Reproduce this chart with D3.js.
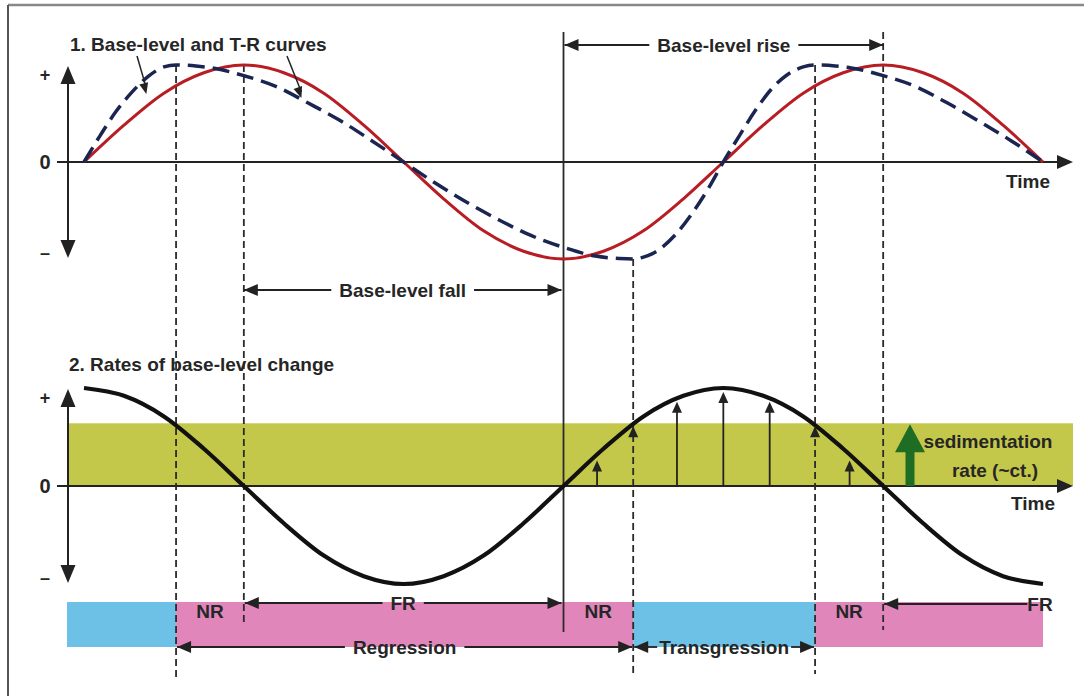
<!DOCTYPE html>
<html><head><meta charset="utf-8">
<script src="https://cdn.jsdelivr.net/npm/d3@7"></script>
<style>
html,body{margin:0;padding:0;background:#fff;}
svg{display:block;}
text{font-family:"Liberation Sans",Arial,sans-serif;fill:#262626;}
</style>
</head><body>
<svg id="c" width="1084" height="696"></svg>
<script>
// ---------- DATA (time in quarter-cycles) ----------
const timeSteps    = [0,0.25,0.5,0.75,1,1.25,1.5,1.75,2,2.25,2.5,2.75,3,3.25,3.5,3.75,4,4.25,4.5,4.75,5,5.25,5.5,5.75,6];
const baseLevel    = [0,0.38,0.71,0.92,1,0.92,0.71,0.38,0,-0.38,-0.71,-0.92,-1,-0.92,-0.71,-0.38,0,0.38,0.71,0.92,1,0.92,0.71,0.38,0];
const rateOfChange = [1,0.92,0.71,0.38,0,-0.38,-0.71,-0.92,-1,-0.92,-0.71,-0.38,0,0.38,0.71,0.92,1,0.92,0.71,0.38,0,-0.38,-0.71,-0.92,-1];
const trTime  = [0,0.1,0.2,0.3,0.4,0.5,0.576,0.7,0.8,1.0,1.2,1.4,1.6,1.8,2.0,2.2,2.4,2.6,2.8,3.0,3.2,3.35,3.436,3.5,3.55,3.6,3.7,3.8,3.9,4.0,4.1,4.2,4.3,4.4,4.5,4.574,4.7,4.8,5.0,5.2,5.4,5.6,5.8,6.0];
const trCurve = [0,0.27,0.52,0.72,0.88,0.98,1,0.99,0.97,0.89,0.78,0.61,0.43,0.22,0,-0.22,-0.42,-0.6,-0.76,-0.88,-0.97,-0.995,-1,-0.98,-0.95,-0.9,-0.75,-0.54,-0.29,0,0.27,0.53,0.75,0.9,0.98,1,0.99,0.97,0.89,0.78,0.61,0.42,0.22,0];
const sedimentationRate = 0.64;
const sedArrowTimes  = [3.21,3.71,4.0,4.29,4.79];
const sedArrowValues = [0.26,0.86,0.96,0.86,0.26];
const keyTimes = {trPeak1:0.576, blPeak1:1, blTrough:3, trTrough:3.436, trPeak2:4.574, blPeak2:5};
const phaseFrom = [null, 0.576, 3.436, 4.574];
const phaseTo   = [0.576, 3.436, 4.574, 6];
const phaseKind = ["T","R","T","R"];
const tickLabels = ["+","0","\u2013"];
const tickValues = [1,0,-1];

// ---------- SETUP ----------
const svg = d3.select("#c");
const x = d3.scaleLinear().domain([0,6]).range([84,1043]);
const yTop = d3.scaleLinear().domain([-1,1]).range([259,65]);
const yBot = d3.scaleLinear().domain([-1,1]).range([584,388]);
const axisX = 68, axisEnd = 1073;
const INK = "#222";
const FS = 19, FW = "bold";

function head(g, tx, ty, dir, len, hw, fill){
  let p;
  if(dir==="r") p=[[tx,ty],[tx-len,ty-hw],[tx-len,ty+hw]];
  if(dir==="l") p=[[tx,ty],[tx+len,ty-hw],[tx+len,ty+hw]];
  if(dir==="u") p=[[tx,ty],[tx-hw,ty+len],[tx+hw,ty+len]];
  if(dir==="d") p=[[tx,ty],[tx-hw,ty-len],[tx+hw,ty-len]];
  g.append("polygon").attr("points",p.map(d=>d.join(",")).join(" ")).attr("fill",fill||INK);
}
function label(g, tx, ty, s, anchor, size, weight){
  return g.append("text").attr("x",tx).attr("y",ty).attr("text-anchor",anchor||"middle")
    .attr("dominant-baseline","central").attr("font-size",size||FS).attr("font-weight",weight||FW).text(s);
}
function dimArrow(g, x1, x2, y, s, opts){
  opts = opts||{};
  const cx = opts.cx!==undefined ? opts.cx : (x1+x2)/2;
  const t = label(g, cx, y, s, "middle");
  const w = t.node().getComputedTextLength();
  const pad = opts.pad!==undefined ? opts.pad : 8;
  const lx = cx - w/2 - pad, rx = cx + w/2 + pad;
  if(lx > x1) g.append("line").attr("x1",x1).attr("x2",lx).attr("y1",y).attr("y2",y).attr("stroke",INK).attr("stroke-width",1.8);
  if(x2 > rx) g.append("line").attr("x1",rx).attr("x2",x2).attr("y1",y).attr("y2",y).attr("stroke",INK).attr("stroke-width",1.8);
  if(opts.left!==false) head(g, x1, y, "l", 14, 6);
  if(opts.right!==false) head(g, x2, y, "r", 14, 6);
}

// frame
svg.append("line").attr("x1",8).attr("x2",1084).attr("y1",5).attr("y2",5).attr("stroke","#888").attr("stroke-width",2.5);
svg.append("line").attr("x1",8).attr("x2",8).attr("y1",5).attr("y2",696).attr("stroke","#555").attr("stroke-width",2);

// green sedimentation band
svg.append("rect").attr("x",axisX).attr("width",axisEnd-axisX)
  .attr("y",yBot(sedimentationRate)).attr("height",yBot(0)-yBot(sedimentationRate)).attr("fill","#c4c84a");

// phase bars
const barG = svg.append("g");
phaseKind.forEach((k,i)=>{
  const x0 = phaseFrom[i]===null ? axisX-1 : x(phaseFrom[i]);
  const x1 = x(phaseTo[i]);
  barG.append("rect").attr("x",x0).attr("width",x1-x0).attr("y",602).attr("height",45)
    .attr("fill", k==="T" ? "#6dc0e6" : "#e186ba");
});

// axes
[yTop,yBot].forEach(ys=>{
  const g = svg.append("g");
  g.append("line").attr("x1",57).attr("x2",axisEnd-14).attr("y1",ys(0)).attr("y2",ys(0)).attr("stroke",INK).attr("stroke-width",2);
  head(g, axisEnd, ys(0), "r", 16, 7);
  g.append("line").attr("x1",axisX).attr("x2",axisX).attr("y1",ys(1)+14).attr("y2",ys(-1)-14).attr("stroke",INK).attr("stroke-width",2);
  head(g, axisX, ys(1)+1, "u", 18, 7.5);
  head(g, axisX, ys(-1)-1, "d", 18, 7.5);
  tickLabels.forEach((s,i)=>{
    const v = tickValues[i];
    const yy = v===0 ? ys(0) : ys(v) + (v>0 ? 10 : -6);
    label(g, 45, yy, s, "middle", v===0?20:18, "bold");
  });
});
label(svg, 1028, 181, "Time");
label(svg, 1033, 503, "Time");

// vertical boundary lines
const vlines = [
  {t:keyTimes.trPeak1, y1:yTop(1), y2:680, dash:"7,4"},
  {t:keyTimes.blPeak1, y1:yTop(1), y2:625, dash:"7,4"},
  {t:keyTimes.blTrough, y1:32, y2:632, dash:null},
  {t:keyTimes.trTrough, y1:yTop(-1), y2:674, dash:"7,4"},
  {t:keyTimes.trPeak2, y1:yTop(1), y2:674, dash:"7,4"},
  {t:keyTimes.blPeak2, y1:32, y2:630, dash:"7,4"}
];
vlines.forEach(v=>{
  svg.append("line").attr("x1",x(v.t)).attr("x2",x(v.t)).attr("y1",v.y1).attr("y2",v.y2)
    .attr("stroke","#2a2a2a").attr("stroke-width",1.8).attr("stroke-dasharray",v.dash);
});

// curves
const lineTop = d3.line().x(d=>x(d[0])).y(d=>yTop(d[1])).curve(d3.curveMonotoneX);
const lineBot = d3.line().x(d=>x(d[0])).y(d=>yBot(d[1])).curve(d3.curveMonotoneX);
svg.append("path").attr("d", lineTop(timeSteps.map((t,i)=>[t,baseLevel[i]])))
  .attr("fill","none").attr("stroke","#b81d24").attr("stroke-width",3);
svg.append("path").attr("d", lineTop(trTime.map((t,i)=>[t,trCurve[i]])))
  .attr("fill","none").attr("stroke","#1b2552").attr("stroke-width",3.5).attr("stroke-dasharray","17,8");
svg.append("path").attr("d", lineBot(timeSteps.map((t,i)=>[t,rateOfChange[i]])))
  .attr("fill","none").attr("stroke","#111").attr("stroke-width",4.2);

// sedimentation arrows under the rate curve
sedArrowTimes.forEach((t,i)=>{
  const xx = x(t), yt = yBot(sedArrowValues[i]);
  svg.append("line").attr("x1",xx).attr("x2",xx).attr("y1",yBot(0)).attr("y2",yt+8).attr("stroke",INK).attr("stroke-width",1.8);
  head(svg, xx, yt, "u", 11, 5);
});
[keyTimes.trTrough, keyTimes.trPeak2].forEach(t=>{
  head(svg, x(t), yBot(sedimentationRate)+3, "u", 11, 5);
});

// green sedimentation arrow
const gx = 910;
svg.append("rect").attr("x",gx-4.5).attr("width",9).attr("y",yBot(sedimentationRate)+26).attr("height",yBot(0)-yBot(sedimentationRate)-26).attr("fill","#1f6d24");
head(svg, gx, yBot(sedimentationRate)+1, "u", 28, 15, "#1f6d24");
label(svg, 988, 441, "sedimentation");
label(svg, 995, 470, "rate (~ct.)");

// titles
svg.append("text").attr("x",70).attr("y",51).attr("font-size",FS).attr("font-weight",FW).text("1. Base-level and T-R curves");
svg.append("text").attr("x",69).attr("y",371).attr("font-size",FS).attr("font-weight",FW).text("2. Rates of base-level change");

// title pointers
const pointers = [{fx:137, fy:56, t:0.39, v:0.70},{fx:287, fy:56, t:1.36, v:0.66}];
pointers.forEach(p=>{
  const tx = x(p.t), ty = yTop(p.v);
  svg.append("line").attr("x1",p.fx).attr("y1",p.fy).attr("x2",tx).attr("y2",ty-6).attr("stroke",INK).attr("stroke-width",1.5);
  const ang = Math.atan2(ty-p.fy, tx-p.fx);
  const len=11, hw=4.5;
  const bx = tx-len*Math.cos(ang), by = ty-len*Math.sin(ang);
  svg.append("polygon").attr("points",[[tx,ty],[bx-hw*Math.sin(ang),by+hw*Math.cos(ang)],[bx+hw*Math.sin(ang),by-hw*Math.cos(ang)]].map(d=>d.join(",")).join(" ")).attr("fill",INK);
});

// dimension arrows
dimArrow(svg, x(keyTimes.blPeak1), x(keyTimes.blTrough)-2, 290, "Base-level fall");
dimArrow(svg, x(keyTimes.blTrough)+1, x(keyTimes.blPeak2), 45, "Base-level rise");
dimArrow(svg, x(keyTimes.blPeak1)+1, x(keyTimes.blTrough)-2, 603, "FR");
dimArrow(svg, x(keyTimes.blPeak2)+1, 1025, 604, "FR", {right:false, cx:1040, pad:0});
dimArrow(svg, x(keyTimes.trPeak1)+1, x(keyTimes.trTrough)-1, 647, "Regression");
dimArrow(svg, x(keyTimes.trTrough)+1, x(keyTimes.trPeak2)-1, 647, "Transgression", {pad:2});

// NR labels
[[keyTimes.trPeak1,keyTimes.blPeak1],[keyTimes.blTrough,keyTimes.trTrough],[keyTimes.trPeak2,keyTimes.blPeak2]].forEach(([a,b])=>{
  label(svg, (x(a)+x(b))/2, 611, "NR");
});
</script>
</body></html>
